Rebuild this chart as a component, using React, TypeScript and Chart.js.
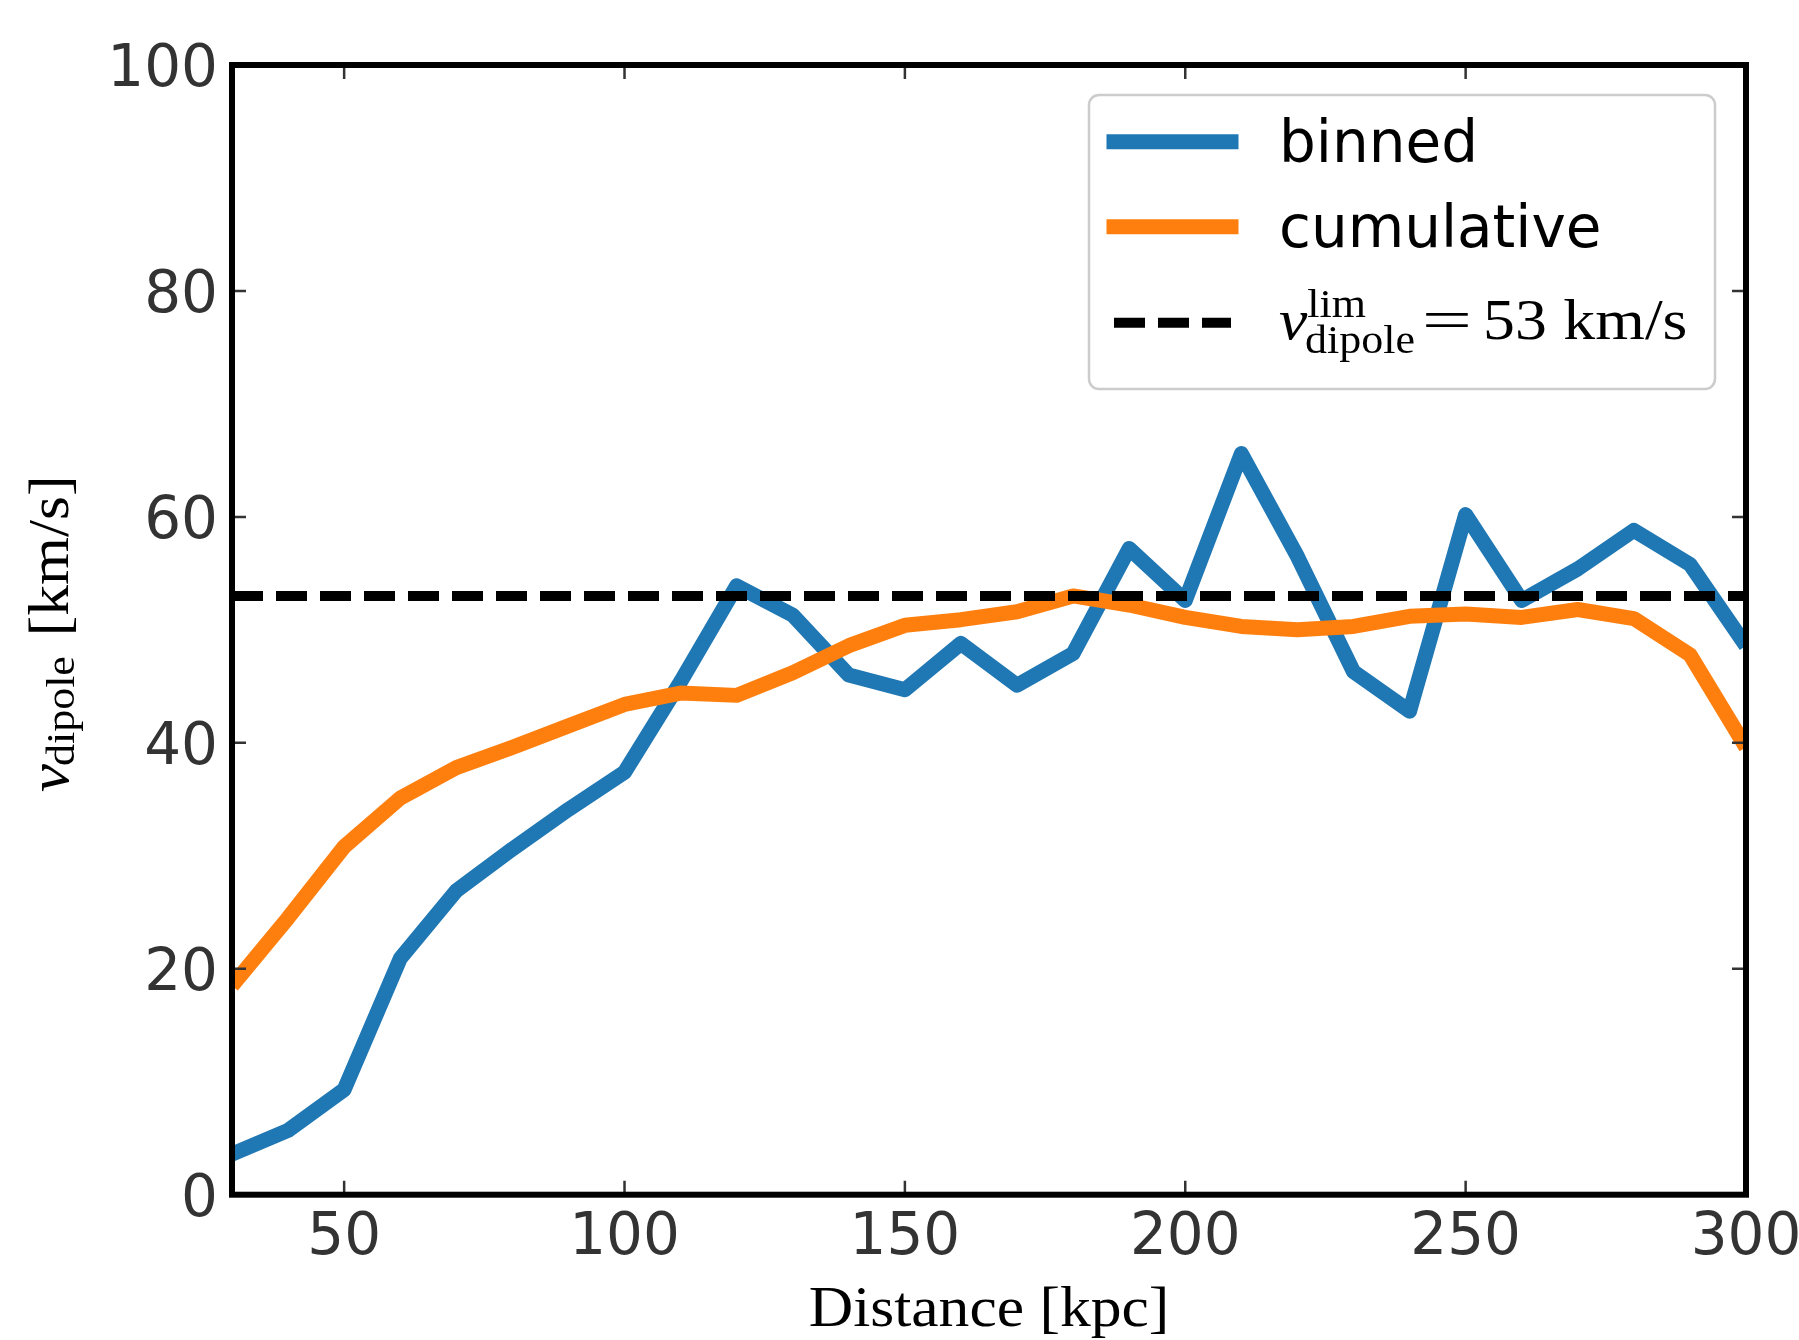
import React, { useEffect, useRef } from "react";
import { Chart, registerables } from "chart.js";

Chart.register(...registerables);

// ---- data ----
const DISTANCE = [30, 40, 50, 60, 70, 80, 90, 100, 110, 120, 130, 140, 150, 160, 170, 180, 190, 200, 210, 220, 230, 240, 250, 260, 270, 280, 290, 300];
const BINNED = [3.6, 5.7, 9.3, 20.9, 26.9, 30.6, 34.1, 37.4, 45.4, 53.9, 51.3, 46.0, 44.7, 48.8, 45.1, 47.9, 57.2, 52.6, 65.6, 56.5, 46.3, 42.8, 60.2, 52.6, 55.4, 58.8, 55.8, 48.6];
const CUMULATIVE = [18.5, 24.5, 30.8, 35.1, 37.8, 39.6, 41.5, 43.4, 44.4, 44.2, 46.2, 48.6, 50.4, 50.9, 51.6, 53.0, 52.2, 51.1, 50.3, 50.0, 50.3, 51.2, 51.4, 51.1, 51.8, 51.0, 47.8, 39.6];
const V_LIM = 53;
const X_TICKS = [50, 100, 150, 200, 250, 300];
const Y_TICKS = [0, 20, 40, 60, 80, 100];
const SERIES_LABELS = ["binned", "cumulative"];

const W = 1799;
const H = 1340;
const TICK_LEN = 14;
const SERIF_STRETCH = 1.08;

type Run = {
  text?: string;
  size: number;
  italic?: boolean;
  sup?: string;
  sub?: string;
  supDy?: number;
  subDy?: number;
  subDx?: number;
  gap?: number;
  sx?: number;
};

function serifFont(size: number, italic?: boolean) {
  return `${italic ? "italic " : ""}${size}px "Liberation Serif", "Times New Roman", serif`;
}

function runWidth(ctx: CanvasRenderingContext2D, runs: Run[]) {
  let w = 0;
  for (const r of runs) {
    w += r.gap || 0;
    ctx.font = serifFont(r.size, r.italic);
    if (r.text !== undefined) w += ctx.measureText(r.text).width * (r.sx || 1);
    else {
      const a = r.sup ? ctx.measureText(r.sup).width : 0;
      const b = r.sub ? ctx.measureText(r.sub).width + (r.subDx || 0) : 0;
      w += Math.max(a, b);
    }
  }
  return w;
}

function drawRun(ctx: CanvasRenderingContext2D, x: number, y: number, runs: Run[], stretch: number, center: boolean) {
  ctx.save();
  ctx.translate(x, y);
  ctx.scale(stretch, 1);
  ctx.textAlign = "left";
  ctx.textBaseline = "alphabetic";
  ctx.fillStyle = "#000";
  let cx = center ? -runWidth(ctx, runs) / 2 : 0;
  for (const r of runs) {
    cx += r.gap || 0;
    ctx.font = serifFont(r.size, r.italic);
    if (r.text !== undefined) {
      const sx = r.sx || 1;
      ctx.save();
      ctx.translate(cx, 0);
      ctx.scale(sx, 1);
      ctx.fillText(r.text, 0, 0);
      ctx.restore();
      cx += ctx.measureText(r.text).width * sx;
    } else {
      let a = 0;
      let b = 0;
      if (r.sup) {
        ctx.fillText(r.sup, cx, r.supDy || 0);
        a = ctx.measureText(r.sup).width;
      }
      if (r.sub) {
        ctx.fillText(r.sub, cx + (r.subDx || 0), r.subDy || 0);
        b = ctx.measureText(r.sub).width + (r.subDx || 0);
      }
      cx += Math.max(a, b);
    }
  }
  ctx.restore();
}

const decorPlugin = {
  id: "decor",
  afterDraw(chart: any) {
    const { ctx, chartArea: ca, scales } = chart;
    const xs = scales.x;
    const ys = scales.y;
    ctx.save();

    // inward ticks on all four sides
    ctx.strokeStyle = "#333333";
    ctx.lineWidth = 2.5;
    ctx.lineCap = "butt";
    ctx.setLineDash([]);
    ctx.beginPath();
    for (const t of xs.ticks) {
      const p = xs.getPixelForValue(t.value);
      ctx.moveTo(p, ca.bottom);
      ctx.lineTo(p, ca.bottom - TICK_LEN);
      ctx.moveTo(p, ca.top);
      ctx.lineTo(p, ca.top + TICK_LEN);
    }
    for (const t of ys.ticks) {
      const p = ys.getPixelForValue(t.value);
      ctx.moveTo(ca.left, p);
      ctx.lineTo(ca.left + TICK_LEN, p);
      ctx.moveTo(ca.right, p);
      ctx.lineTo(ca.right - TICK_LEN, p);
    }
    ctx.stroke();

    // spines
    ctx.strokeStyle = "#000";
    ctx.lineWidth = 6;
    ctx.lineJoin = "miter";
    ctx.strokeRect(ca.left, ca.top, ca.right - ca.left, ca.bottom - ca.top);

    // legend
    const bw = 626;
    const bh = 294;
    const bx = ca.right - 31 - bw;
    const by = ca.top + 30;
    ctx.beginPath();
    (ctx as any).roundRect(bx, by, bw, bh, 10);
    ctx.fillStyle = "rgba(255,255,255,0.8)";
    ctx.fill();
    ctx.strokeStyle = "#cccccc";
    ctx.lineWidth = 2.5;
    ctx.stroke();

    const rowY = [46.7, 131.7, 227.7];
    const hx0 = bx + 25;
    const hx1 = hx0 + 117;
    const dsets = chart.data.datasets;
    for (let i = 0; i < 3; i++) {
      const ds = dsets[i];
      ctx.beginPath();
      ctx.strokeStyle = ds.borderColor;
      ctx.lineWidth = ds.borderWidth;
      const dash = ds.borderDash || [];
      ctx.setLineDash(dash);
      ctx.lineCap = dash.length ? "butt" : "square";
      ctx.moveTo(hx0, by + rowY[i]);
      ctx.lineTo(hx1, by + rowY[i]);
      ctx.stroke();
    }
    ctx.setLineDash([]);

    const tx = bx + 190;
    ctx.fillStyle = "#000";
    ctx.font = '58px "DejaVu Sans"';
    ctx.textAlign = "left";
    ctx.textBaseline = "alphabetic";
    ctx.fillText(SERIES_LABELS[0], tx, by + 66.7);
    ctx.fillText(SERIES_LABELS[1], tx, by + 151.7);

    drawRun(
      ctx,
      tx,
      by + 244,
      [
        { text: "v", size: 58, italic: true },
        { sup: "lim", sub: "dipole", size: 40, supDy: -22, subDy: 14, subDx: -2 },
        { gap: 6, text: "=", size: 58, sx: 1.4 },
        { gap: 10, text: String(V_LIM), size: 58 },
        { gap: 15, text: "km/s", size: 58 },
      ],
      1.1,
      false
    );

    // x axis title
    drawRun(ctx, (ca.left + ca.right) / 2, 1326, [{ text: "Distance [kpc]", size: 57 }], SERIF_STRETCH, true);

    // y axis title (rotated)
    ctx.save();
    ctx.translate(68, (ca.top + ca.bottom) / 2 + 4);
    ctx.rotate(-Math.PI / 2);
    drawRun(
      ctx,
      0,
      0,
      [
        { text: "v", size: 58, italic: true },
        { sub: "dipole", size: 40, subDy: 6, subDx: -2 },
        { gap: 18, text: "[km/s]", size: 56 },
      ],
      1.1,
      true
    );
    ctx.restore();

    ctx.restore();
  },
};

export default function App() {
  const ref = useRef<HTMLCanvasElement | null>(null);

  useEffect(() => {
    if (!ref.current) return;
    const tickFont = { family: '"DejaVu Sans"', size: 58, lineHeight: 1.2 };
    const chart = new Chart(ref.current, {
      type: "line",
      data: {
        datasets: [
          {
            label: SERIES_LABELS[0],
            data: DISTANCE.map((x, i) => ({ x, y: BINNED[i] })),
            borderColor: "#1f77b4",
            backgroundColor: "#1f77b4",
            borderWidth: 15,
            pointRadius: 0,
            borderJoinStyle: "round",
            borderCapStyle: "butt",
            tension: 0,
            fill: false,
            order: 3,
          },
          {
            label: SERIES_LABELS[1],
            data: DISTANCE.map((x, i) => ({ x, y: CUMULATIVE[i] })),
            borderColor: "#ff7f0e",
            backgroundColor: "#ff7f0e",
            borderWidth: 15,
            pointRadius: 0,
            borderJoinStyle: "round",
            borderCapStyle: "butt",
            tension: 0,
            fill: false,
            order: 2,
          },
          {
            label: "v_lim",
            data: [
              { x: DISTANCE[0], y: V_LIM },
              { x: DISTANCE[DISTANCE.length - 1], y: V_LIM },
            ],
            borderColor: "#000000",
            backgroundColor: "#000000",
            borderWidth: 10,
            borderDash: [31, 13],
            pointRadius: 0,
            tension: 0,
            fill: false,
            order: 1,
          },
        ],
      } as any,
      options: {
        animation: false,
        responsive: false,
        devicePixelRatio: 1,
        layout: { padding: { top: 65, right: 53, left: 0, bottom: 0 } },
        plugins: {
          legend: { display: false },
          tooltip: { enabled: false },
          title: { display: false },
        },
        scales: {
          x: {
            type: "linear",
            min: 30,
            max: 300,
            grid: { display: false, drawTicks: false },
            border: { display: false },
            ticks: { font: tickFont, color: "#333333", padding: 9, maxRotation: 0, autoSkip: false },
            afterBuildTicks: (s: any) => {
              s.ticks = X_TICKS.map((value) => ({ value }));
            },
            afterFit: (s: any) => {
              s.height = H - 1194.7;
              s.paddingLeft = 0;
              s.paddingRight = 0;
            },
          },
          y: {
            type: "linear",
            min: 0,
            max: 100,
            grid: { display: false, drawTicks: false },
            border: { display: false },
            ticks: { font: tickFont, color: "#333333", padding: 14, labelOffset: 6, autoSkip: false },
            afterBuildTicks: (s: any) => {
              s.ticks = Y_TICKS.map((value) => ({ value }));
            },
            afterFit: (s: any) => {
              s.width = 232;
              s.paddingTop = 0;
              s.paddingBottom = 0;
            },
          },
        },
      } as any,
      plugins: [decorPlugin],
    });
    return () => chart.destroy();
  }, []);

  return (
    <div style={{ position: "absolute", left: 0, top: 0, width: W, height: H, background: "#fff" }}>
      <canvas ref={ref} width={W} height={H} style={{ display: "block", width: W, height: H }} />
    </div>
  );
}
